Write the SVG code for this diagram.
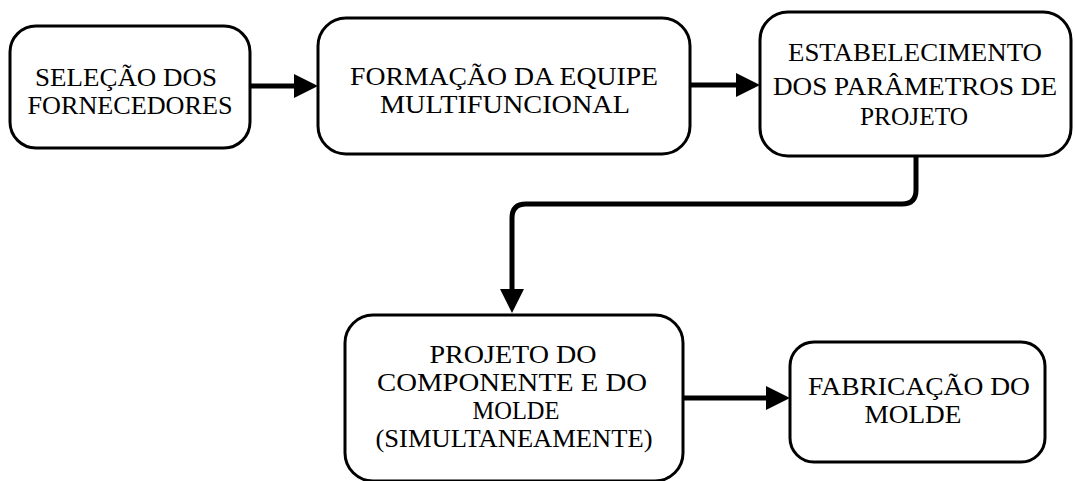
<svg xmlns="http://www.w3.org/2000/svg" width="1075" height="481" viewBox="0 0 1075 481">
<style>
.box{fill:#fff;stroke:#000;stroke-width:3}
.t{font-family:"Liberation Serif","Times New Roman",serif;font-size:25px;fill:#000;text-anchor:middle}
.c{fill:none;stroke:#000;stroke-width:5}
</style>
<defs>
<marker id="ah" markerUnits="userSpaceOnUse" markerWidth="24" markerHeight="24" refX="2" refY="12" orient="auto" viewBox="0 0 24 24">
<path d="M0,0 L24,12 L0,24 Z" fill="#000"/>
</marker>
</defs>
<rect width="1075" height="481" fill="#fff"/>
<g id="connectors">
<path class="c" d="M250,86 L296,86" marker-end="url(#ah)"/>
<path class="c" d="M690,85 L738,85" marker-end="url(#ah)"/>
<path class="c" d="M916,156 L916,190 Q916,204 902,204 L526,204 Q512,204 512,218 L512,291" marker-end="url(#ah)"/>
<path class="c" d="M683,398 L768,398" marker-end="url(#ah)"/>
</g>
<g id="n1">
<rect class="box" x="10" y="26" width="240" height="122" rx="26"/>
<text class="t" x="126" y="86" textLength="182" lengthAdjust="spacingAndGlyphs">SELEÇÃO DOS</text>
<text class="t" x="130" y="114" textLength="205" lengthAdjust="spacingAndGlyphs">FORNECEDORES</text>
</g>
<g id="n2">
<rect class="box" x="318" y="18" width="372" height="136" rx="28"/>
<text class="t" x="504" y="85" textLength="308" lengthAdjust="spacingAndGlyphs">FORMAÇÃO DA EQUIPE</text>
<text class="t" x="505" y="113" textLength="250" lengthAdjust="spacingAndGlyphs">MULTIFUNCIONAL</text>
</g>
<g id="n3">
<rect class="box" x="760" y="12" width="311" height="144" rx="28"/>
<text class="t" x="915" y="61" style="font-size:26px" textLength="254" lengthAdjust="spacingAndGlyphs">ESTABELECIMENTO</text>
<text class="t" x="915" y="95" style="font-size:26px" textLength="284" lengthAdjust="spacingAndGlyphs">DOS PARÂMETROS  DE</text>
<text class="t" x="914" y="125" style="font-size:26px" textLength="108" lengthAdjust="spacingAndGlyphs">PROJETO</text>
</g>
<g id="n4">
<rect class="box" x="345" y="315" width="338" height="166" rx="28"/>
<text class="t" x="513" y="363" textLength="167" lengthAdjust="spacingAndGlyphs">PROJETO  DO</text>
<text class="t" x="512" y="391" textLength="270" lengthAdjust="spacingAndGlyphs">COMPONENTE  E  DO</text>
<text class="t" x="516" y="419" textLength="87" lengthAdjust="spacingAndGlyphs">MOLDE</text>
<text class="t" x="514" y="447" textLength="277" lengthAdjust="spacingAndGlyphs">(SIMULTANEAMENTE)</text>
</g>
<g id="n5">
<rect class="box" x="790" y="342" width="255" height="120" rx="24"/>
<text class="t" x="919" y="395" textLength="222" lengthAdjust="spacingAndGlyphs">FABRICAÇÃO  DO</text>
<text class="t" x="913" y="423" textLength="97" lengthAdjust="spacingAndGlyphs">MOLDE</text>
</g>
</svg>
